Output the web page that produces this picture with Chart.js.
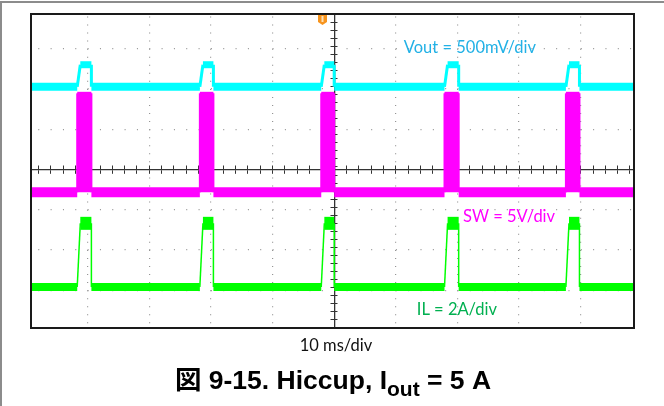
<!DOCTYPE html>
<html>
<head>
<meta charset="utf-8">
<title>Hiccup, Iout = 5 A</title>
<script src="https://cdn.jsdelivr.net/npm/chart.js@4"></script>
<style>
  html, body { margin: 0; padding: 0; background: #fff; }
  #wrap { position: relative; width: 664px; height: 406px; }
</style>
</head>
<body>
<div id="wrap"><canvas id="scope"></canvas></div>
<script>
// Scope capture of hiccup mode at 5 A load.
// x is time in ms (10 ms/div), y is screen divisions from centre.

// start / end of every hiccup burst, ms from trigger
const burstStart = [-41.7, -21.8, -2.1, 17.9, 37.6];
const burstEnd = [-39.4, -19.6, 0.0, 20.2, 39.8];
// Vout and IL take about half a ms to ramp up
const riseTime = 0.5;

// [idle level, burst level] in divisions
const voutLevel = [2.05, 2.60];
const swLevel = [-0.57, 1.89];
const ilLevel = [-2.92, -1.34];

const triggerTime = -2.0;

// visible part of the screen (capture is cropped a bit)
const timeRange = [-49.2, 48.65];
const divRange = [-3.94, 3.86];
const timePerDiv = 10;

function trace(level, rise) {
    const pts = [{ x: timeRange[0], y: level[0] }];
    burstStart.forEach((s, i) => {
        pts.push({ x: s, y: level[0] });
        pts.push({ x: s + rise, y: level[1] });
        pts.push({ x: burstEnd[i], y: level[1] });
        pts.push({ x: burstEnd[i], y: level[0] });
    });
    pts.push({ x: timeRange[1], y: level[0] });
    return pts;
}

// noisy traces: flat parts are a thick band, edges are thin
function bandWidth(level, idleW, burstW, edgeW) {
    return ctx => {
        const a = ctx.p0.parsed.y, b = ctx.p1.parsed.y;
        if (a !== b) return edgeW;
        return a === level[0] ? idleW : burstW;
    };
}

const labels = [
    { text: 'Vout = 500mV/div', t: 11.3, v: 2.88, color: '#22b1e6' },
    { text: 'SW = 5V/div', t: 20.9, v: -1.30, color: '#ff00ff' },
    { text: 'IL = 2A/div', t: 13.4, v: -3.62, color: '#00b050' }
];
const labelFont = "16.5px Lato, 'Open Sans', sans-serif";

const scopeDecor = {
    id: 'scopeDecor',
    beforeDraw(chart) {
        const c = chart.ctx;
        c.save();
        c.fillStyle = '#8c8c8c';
        c.fillRect(0, 1, chart.width, 2);
        c.fillRect(0, 1, 2, chart.height);
        c.restore();
    },
    afterDraw(chart) {
        const c = chart.ctx, a = chart.chartArea;
        const xs = chart.scales.x, ys = chart.scales.y;
        c.save();
        // screen frame
        c.strokeStyle = '#1a1a1a';
        c.lineWidth = 2;
        c.strokeRect(a.left, a.top, a.right - a.left, a.bottom - a.top);

        // trigger marker
        const tx = Math.round(xs.getPixelForValue(triggerTime)) + 0.5;
        c.fillStyle = '#f7941d';
        c.beginPath();
        c.moveTo(tx - 4.5, a.top + 1);
        c.lineTo(tx + 4.5, a.top + 1);
        c.lineTo(tx + 4.5, a.top + 8);
        c.lineTo(tx, a.top + 11);
        c.lineTo(tx - 4.5, a.top + 8);
        c.closePath();
        c.fill();
        c.fillStyle = '#fde0b8';
        c.fillRect(tx - 1, a.top + 2, 2, 6);

        // channel scale labels
        c.font = labelFont;
        c.textAlign = 'left';
        c.textBaseline = 'alphabetic';
        labels.forEach(l => {
            c.fillStyle = l.color;
            c.fillText(l.text, xs.getPixelForValue(l.t), ys.getPixelForValue(l.v));
        });

        // time base
        c.fillStyle = '#111';
        c.textAlign = 'center';
        c.fillText('10 ms/div', 336, 350.5);

        // figure caption with subscript
        const parts = [
            { s: '図 9-15. Hiccup, I', size: 26.5, dy: 0 },
            { s: 'out', size: 21, dy: 7 },
            { s: ' = 5 A', size: 26.5, dy: 0 }
        ];
        const fam = "'Liberation Sans', Arial, 'Noto Sans CJK JP', sans-serif";
        let total = 0;
        parts.forEach(p => {
            c.font = 'bold ' + p.size + 'px ' + fam;
            p.w = c.measureText(p.s).width;
            total += p.w;
        });
        let x = 333 - total / 2;
        c.textAlign = 'left';
        c.fillStyle = '#000';
        parts.forEach(p => {
            c.font = 'bold ' + p.size + 'px ' + fam;
            c.fillText(p.s, x, 388.5 + p.dy);
            x += p.w;
        });
        c.restore();
    }
};

function centreAxis(axis, pos, step, len, border) {
    return {
        type: 'linear', axis: axis, position: pos, z: 1,
        min: axis === 'x' ? timeRange[0] : divRange[0],
        max: axis === 'x' ? timeRange[1] : divRange[1],
        ticks: { display: false, stepSize: step, includeBounds: false },
        grid: { drawOnChartArea: false, drawTicks: true, tickLength: len, tickColor: '#333', tickWidth: 1 },
        border: { display: border, color: '#333', width: 1.3 }
    };
}

function dotGrid(step, dash, offset) {
    return {
        ticks: { display: false, stepSize: step, includeBounds: false },
        grid: {
            drawTicks: false, lineWidth: 1.2,
            color: ctx => ctx.tick && ctx.tick.value === 0 ? 'rgba(0,0,0,0)' : '#959595'
        },
        // in v4 the grid line dash is read from border options
        border: { display: false, dash: dash, dashOffset: offset }
    };
}

new Chart(document.getElementById('scope').getContext('2d'), {
    type: 'line',
    data: {
        datasets: [
            {
                label: 'Vout', data: trace(voutLevel, riseTime),
                borderColor: '#00ffff', borderWidth: 8,
                segment: { borderWidth: bandWidth(voutLevel, 8, 7, 3) },
                pointRadius: 0, fill: false
            },
            {
                label: 'SW', data: trace(swLevel, 0),
                borderColor: '#ff00ff', backgroundColor: '#ff00ff', borderWidth: 10,
                segment: { borderWidth: bandWidth(swLevel, 10, 3, 2) },
                pointRadius: 0, fill: { value: swLevel[0] }
            },
            {
                label: 'IL', data: trace(ilLevel, riseTime),
                borderColor: '#00ff00', borderWidth: 8,
                segment: { borderWidth: bandWidth(ilLevel, 8, 13, 1.5) },
                pointRadius: 0, fill: false
            }
        ]
    },
    options: {
        responsive: true,
        maintainAspectRatio: false,
        animation: false,
        parsing: false,
        layout: { padding: { left: 31, top: 14, right: 30, bottom: 78 } },
        plugins: { legend: { display: false }, tooltip: { enabled: false } },
        scales: {
            x: Object.assign({ type: 'linear', min: timeRange[0], max: timeRange[1] },
                dotGrid(timePerDiv, [1, 7.05], 5.6)),
            y: Object.assign({ type: 'linear', min: divRange[0], max: divRange[1] },
                dotGrid(1, [1, 11.33], 5.05)),
            xc: centreAxis('x', { y: 0 }, timePerDiv / 5, 3.5, true),
            xc2: centreAxis('x', { y: 0 }, timePerDiv / 5, -3.5, false),
            yc: centreAxis('y', { x: 0 }, 0.2, 3.5, true),
            yc2: centreAxis('y', { x: 0 }, 0.2, -3.5, false)
        }
    },
    plugins: [scopeDecor]
});
</script>
</body>
</html>
